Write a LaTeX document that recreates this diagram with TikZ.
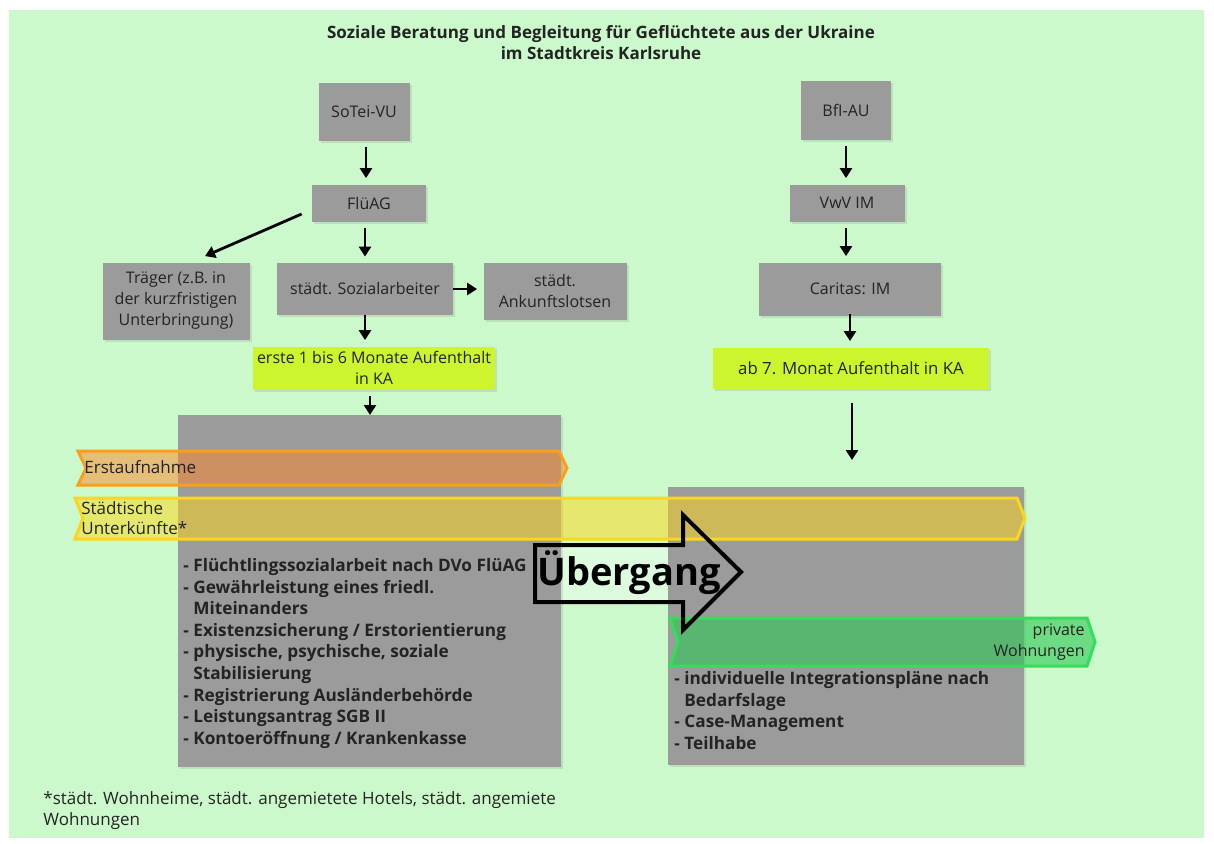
\documentclass[tikz,border=0pt]{standalone}
\usepackage{fontspec}
\setmainfont{Open Sans}
\usetikzlibrary{arrows.meta, positioning, calc, shadows}

\definecolor{hintergrund}{RGB}{204,249,204}
\definecolor{kastengrau}{RGB}{155,155,155}
\definecolor{hellgruen}{RGB}{204,245,46}
\definecolor{orangerand}{RGB}{247,160,30}
\definecolor{orangefuell}{RGB}{255,135,40}
\definecolor{gelbrand}{RGB}{250,215,30}
\definecolor{gelbfuell}{RGB}{255,215,20}
\definecolor{gruenrand}{RGB}{50,222,90}
\definecolor{gruenfuell}{RGB}{45,200,85}
\definecolor{schrift}{RGB}{35,35,35}

\begin{document}
\begin{tikzpicture}[
    x=0.5pt, y=-0.5pt, % ein Pixel des Originals
    font=\fontsize{8}{10.5}\selectfont, text=schrift,
    schatten/.style={drop shadow={shadow xshift=1pt, shadow yshift=-1pt, opacity=0.2}},
    kasten/.style={fill=kastengrau, align=center, inner sep=1pt, schatten},
    zeitraum/.style={fill=hellgruen, align=center, inner sep=1pt, schatten},
    pfeil/.style={-{Triangle[length=5pt, width=6pt]}, line width=1.4pt, shorten <=3pt, shorten >=3pt},
    band/.style={line width=1.5pt, line join=miter, fill opacity=0.5},
    liste/.style={font=\bfseries\fontsize{8.6}{10.8}\selectfont, align=left, anchor=north west, inner sep=0pt}
]
    % --- Hintergrund ---
    \useasboundingbox (0,0) rectangle (1214,843);
    \fill[white] (0,0) rectangle (1214,843);
    \fill[hintergrund] (9,10) rectangle (1204,838);

    % --- Titel ---
    \node[font=\bfseries\fontsize{8.5}{10.5}\selectfont, align=center] (titel) at (601,43)
        {Soziale Beratung und Begleitung für Geflüchtete aus der Ukraine\\im Stadtkreis Karlsruhe};

    % --- Fuellung des Uebergangspfeils (liegt unter den Kaesten) ---
    \fill[white, opacity=0.35] (535,545) -- (683,545) -- (683,515) -- (741,572)
        -- (683,630) -- (683,602) -- (535,602) -- cycle;

    % --- Linker Strang ---
    \node[kasten, minimum width=45.5pt, minimum height=29pt] (sotei) at (364,112) {SoTei-VU};
    \node[kasten, minimum width=57pt, minimum height=18.5pt] (fluag) at (369,203) {FlüAG};
    \node[kasten, minimum width=73.5pt, minimum height=38.5pt] (traeger) at (176,301)
        {Träger (z.B. in\\der kurzfristigen\\Unterbringung)};
    \node[kasten, minimum width=88pt, minimum height=26pt] (sozial) at (365,289) {städt. Sozialarbeiter};
    \node[kasten, minimum width=71.5pt, minimum height=28.5pt] (lotsen) at (555,291)
        {städt.\\Ankunftslotsen};
    \node[zeitraum, minimum width=121pt, minimum height=21.5pt] (monat1) at (374,368)
        {erste 1 bis 6 Monate Aufenthalt\\in KA};
    \node[kasten, anchor=north west, minimum width=191.5pt, minimum height=176pt] (links) at (178,415) {};

    % --- Rechter Strang ---
    \node[kasten, minimum width=45pt, minimum height=29.5pt] (bfi) at (846,110) {BfI-AU};
    \node[kasten, minimum width=57.5pt, minimum height=18.5pt] (vwv) at (847,203) {VwV IM};
    \node[kasten, minimum width=91pt, minimum height=26.5pt] (caritas) at (850,289) {Caritas: IM};
    \node[zeitraum, minimum width=138pt, minimum height=20.5pt, font=\fontsize{8.4}{10.5}\selectfont] (monat7) at (851,368)
        {ab 7. Monat Aufenthalt in KA};
    \node[kasten, anchor=north west, minimum width=178pt, minimum height=139pt] (rechts) at (668,487) {};
    \coordinate (ziel) at (852,460);

    % --- Pfeile ---
    \draw[pfeil] ([xshift=1pt]sotei.south) -- ([xshift=1pt]sotei.south |- fluag.north);
    \draw[pfeil, shorten <=0pt, shorten >=0pt] ([xshift=-5pt, yshift=-5.5pt]fluag.west)
        -- ([xshift=14.5pt, yshift=3pt]traeger.north);
    \draw[pfeil] (fluag.south -| sozial.north) -- (sozial.north);
    \draw[pfeil, shorten <=0pt] (sozial.east) -- (sozial.east -| lotsen.west);
    \draw[pfeil, shorten <=0pt] (sozial.south) -- (sozial.south |- monat1.north);
    \draw[pfeil, shorten >=0pt] ([xshift=-2pt]monat1.south) -- ([xshift=-2pt]monat1.south |- links.north);
    \draw[pfeil] (bfi) -- (bfi |- vwv.north);
    \draw[pfeil] (vwv.south -| bfi) -- (bfi |- caritas.north);
    \draw[pfeil, shorten <=-1pt] (caritas) -- (caritas |- monat7.north);
    \draw[pfeil, shorten <=7pt, shorten >=0pt] (monat7.south -| ziel) -- (ziel);

    % --- Baender der Unterbringung ---
    \draw[band, draw=orangerand, fill=orangefuell] (78,451) -- (559,451) -- (567,468)
        -- (559,485) -- (78,485) -- (86,468) -- cycle;
    \draw[band, draw=gelbrand, fill=gelbfuell] (75,498) -- (1017,498) -- (1025,518)
        -- (1017,539) -- (75,539) -- (83,518) -- cycle;
    \draw[band, draw=gruenrand, fill=gruenfuell, fill opacity=0.6] (670,618) -- (1087,618) -- (1095,642)
        -- (1087,666) -- (670,666) -- (678,642) -- cycle;
    \node[anchor=west, inner sep=0pt, font=\fontsize{8.5}{10.5}\selectfont] (erst) at (84,467) {Erstaufnahme};
    \node[anchor=west, align=left, inner sep=0pt, font=\fontsize{8.5}{10.3}\selectfont] (staedt) at (81,518)
        {Städtische\\Unterkünfte*};
    \node[anchor=east, align=right, inner sep=0pt, font=\fontsize{8}{10.3}\selectfont] (privat) at (1085,642)
        {private\\Wohnungen};

    % --- Uebergang ---
    \draw[line width=2pt, line join=miter] (535,545) -- (683,545) -- (683,515) -- (741,572)
        -- (683,630) -- (683,602) -- (535,602) -- cycle;
    \node[font=\bfseries\fontsize{19}{22}\selectfont, inner sep=0pt, text=black] (uebergang) at (629,573) {Übergang};

    % --- Aufgaben ---
    \node[liste] (aufgaben1) at (183,558)
        {- Flüchtlingssozialarbeit nach DVo FlüAG\\
         - Gewährleistung eines friedl.\\
         \phantom{- }Miteinanders\\
         - Existenzsicherung / Erstorientierung\\
         - physische, psychische, soziale\\
         \phantom{- }Stabilisierung\\
         - Registrierung Ausländerbehörde\\
         - Leistungsantrag SGB II\\
         - Kontoeröffnung / Krankenkasse};
    \node[liste] (aufgaben2) at (674,671)
        {- individuelle Integrationspläne nach\\
         \phantom{- }Bedarfslage\\
         - Case-Management\\
         - Teilhabe};

    % --- Fussnote ---
    \node[anchor=north west, align=left, inner sep=0pt, font=\fontsize{8.5}{10.5}\selectfont] (fussnote) at (43,791)
        {*städt. Wohnheime, städt. angemietete Hotels, städt. angemiete\\Wohnungen};
\end{tikzpicture}
\end{document}
